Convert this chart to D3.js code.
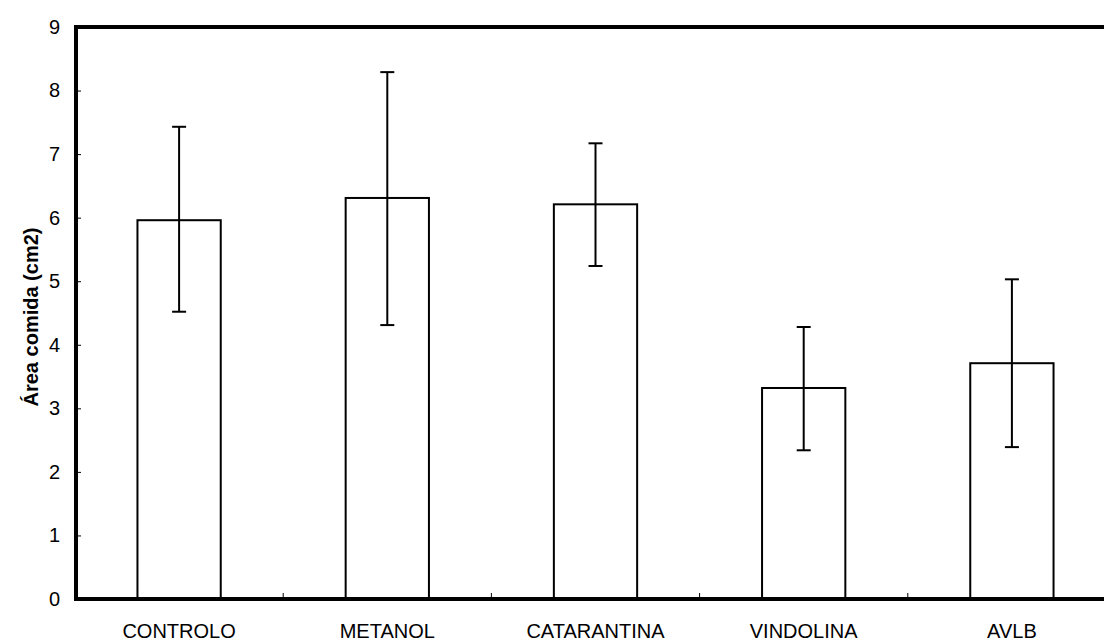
<!DOCTYPE html>
<html>
<head>
<meta charset="utf-8">
<script src="https://cdn.jsdelivr.net/npm/d3@7"></script>
<style>
  html, body { margin: 0; padding: 0; background: #fff; }
  svg { display: block; font-family: "Liberation Sans", Arial, sans-serif; }
</style>
</head>
<body>
<div id="chart"></div>
<script>
// Datos del gráfico
const categorias = ["CONTROLO", "METANOL", "CATARANTINA", "VINDOLINA", "AVLB"];
const medias = [5.96, 6.31, 6.21, 3.32, 3.71];
const errorSup = [7.43, 8.29, 7.17, 4.28, 5.03];
const errorInf = [4.52, 4.31, 5.24, 2.34, 2.39];
const ticksY = [0, 1, 2, 3, 4, 5, 6, 7, 8, 9];

const width = 1104;
const height = 642;
const margenIzq = 76, margenSup = 27, margenInf = 599, margenDer = 1116;

const svg = d3.select("#chart").append("svg")
  .attr("width", width)
  .attr("height", height);

const x = d3.scaleBand()
  .domain(categorias)
  .range([margenIzq - 1, margenDer])
  .paddingInner(0.6)
  .paddingOuter(0.3);

const y = d3.scaleLinear()
  .domain([0, 9])
  .range([margenInf, margenSup]);

// Eje Y con marcas hacia dentro
const ejeY = svg.append("g")
  .attr("transform", `translate(${margenIzq},0)`)
  .call(d3.axisLeft(y).tickValues(ticksY).tickFormat(d3.format("d")).tickSize(-5).tickPadding(16));
ejeY.select(".domain").remove();
ejeY.selectAll("line").attr("stroke", "#000").attr("stroke-width", 1);
ejeY.selectAll("text").attr("font-size", 20).attr("fill", "#000");

// Barras
svg.selectAll("rect.barra")
  .data(categorias)
  .enter()
  .append("rect")
  .attr("class", "barra")
  .attr("x", d => x(d))
  .attr("y", (d, i) => y(medias[i]))
  .attr("width", x.bandwidth())
  .attr("height", (d, i) => y(0) - y(medias[i]))
  .attr("fill", "#fff")
  .attr("stroke", "#000")
  .attr("stroke-width", 2);

// Barras de error
const err = svg.selectAll("g.err")
  .data(categorias)
  .enter()
  .append("g")
  .attr("class", "err")
  .attr("stroke", "#000")
  .attr("stroke-width", 2);

const cx = d => x(d) + x.bandwidth() / 2;
err.append("line")
  .attr("x1", cx).attr("x2", cx)
  .attr("y1", (d, i) => y(errorSup[i]))
  .attr("y2", (d, i) => y(errorInf[i]));
err.append("line")
  .attr("x1", d => cx(d) - 7).attr("x2", d => cx(d) + 7)
  .attr("y1", (d, i) => y(errorSup[i]))
  .attr("y2", (d, i) => y(errorSup[i]));
err.append("line")
  .attr("x1", d => cx(d) - 7).attr("x2", d => cx(d) + 7)
  .attr("y1", (d, i) => y(errorInf[i]))
  .attr("y2", (d, i) => y(errorInf[i]));

// Marcas del eje X entre categorías
const paso = x.step();
svg.selectAll("line.tickx")
  .data(categorias.slice(1))
  .enter()
  .append("line")
  .attr("class", "tickx")
  .attr("x1", d => x(d) - paso * 0.3)
  .attr("x2", d => x(d) - paso * 0.3)
  .attr("y1", margenInf)
  .attr("y2", margenInf - 6)
  .attr("stroke", "#000")
  .attr("stroke-width", 1);

// Etiquetas de categorías
svg.selectAll("text.cat")
  .data(categorias)
  .enter()
  .append("text")
  .attr("class", "cat")
  .attr("x", cx)
  .attr("y", 638)
  .attr("text-anchor", "middle")
  .attr("font-size", 20)
  .text(d => d);

// Marco del área de trazado
svg.append("path")
  .attr("d", `M${margenDer + 10},${margenSup}H${margenIzq}V${margenInf}H${margenDer + 10}`)
  .attr("fill", "none")
  .attr("stroke", "#000")
  .attr("stroke-width", 4);

// Título del eje Y
svg.append("text")
  .attr("transform", `translate(38,${(margenSup + margenInf) / 2 + 4}) rotate(-90)`)
  .attr("text-anchor", "middle")
  .attr("font-size", 20)
  .attr("font-weight", "bold")
  .text("Área comida (cm2)");
</script>
</body>
</html>
